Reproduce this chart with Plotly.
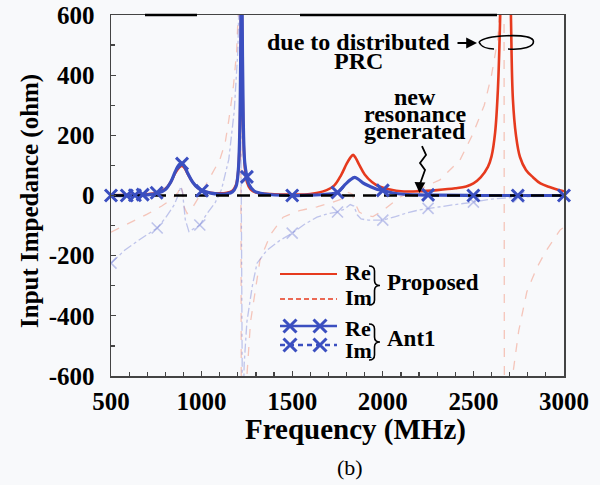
import plotly.graph_objects as go

# ---------------- data ----------------
# Proposed antenna, real part (ohm)
prop_re_f = [500, 600, 700, 760, 800, 830, 855, 875, 890, 905, 925, 950, 980, 1010, 1050, 1100,
             1140, 1170, 1190, 1202, 1210, 1216, 1220, 1224, 1230, 1238, 1250, 1270, 1300, 1400,
             1500, 1600, 1690, 1730, 1770, 1800, 1820, 1836, 1850, 1870, 1900, 1940, 1980, 2040,
             2100, 2200, 2300, 2400, 2460, 2500, 2540, 2580, 2600, 2620, 2635, 2648, 2662, 2677,
             2692, 2707, 2718, 2735, 2757, 2790, 2830, 2870, 2920, 2970, 3000]
prop_re_v = [1, 2, 4, 10, 22, 45, 75, 92, 98, 92, 70, 45, 25, 15, 9, 7,
             9, 16, 35, 80, 180, 450, 750, 500, 220, 100, 45, 20, 10, 4,
             3, 5, 18, 32, 68, 105, 125, 135, 125, 102, 70, 45, 30, 20,
             14, 14, 18, 24, 30, 40, 60, 95, 130, 210, 350, 600, 1100, 1500,
             1100, 600, 320, 200, 128, 85, 60, 40, 28, 18, 14]

# Proposed antenna, imaginary part (ohm)
prop_im_f = [500, 600, 700, 780, 840, 870, 885, 895, 905, 920, 950, 990, 1032, 1070, 1100, 1130,
             1150, 1175, 1193, 1205, 1214, 1220, 1235, 1250, 1270, 1300, 1322, 1380, 1450, 1540,
             1637, 1725, 1780, 1810, 1830, 1850, 1870, 1900, 1946, 2000, 2095, 2200, 2315, 2426,
             2499, 2560, 2600, 2635, 2655, 2668, 2672, 2690, 2718, 2750, 2795, 2850, 2900, 2978, 3000]
prop_im_v = [-122, -92, -62, -35, -10, 10, 35, 10, -40, -60, -40, 0, 45, 85, 118, 175,
             250, 360, 475, 650, 1000, -1000, -800, -600, -420, -300, -215, -130, -72, -50,
             -38, -22, -10, 10, 5, -30, -55, -65, -70, -50, -5, 20, 52, 118,
             207, 300, 400, 520, 750, 1500, -1500, -800, -592, -450, -320, -240, -185, -115, -105]

# Ant1, real part (ohm)
ant1_re_f = [500, 600, 700, 760, 800, 830, 855, 875, 890, 905, 925, 950, 980, 1010, 1050, 1100,
             1140, 1170, 1190, 1202, 1210, 1216, 1220, 1224, 1230, 1238, 1250, 1260, 1290, 1350,
             1500, 1600, 1700, 1750, 1790, 1820, 1845, 1865, 1890, 1930, 1970, 2000, 2050, 2100,
             2200, 2300, 2500, 2750, 3000]
ant1_re_v = [0, 0, 2, 8, 20, 45, 80, 102, 108, 98, 72, 45, 25, 15, 8, 5,
             6, 12, 30, 80, 200, 500, 900, 600, 250, 110, 62, 38, 15, 5,
             0, 1, 5, 10, 35, 52, 60, 54, 42, 30, 20, 17, 9, 5,
             2, 1, 0, 0, 0]
ant1_re_mk_f = [500, 587, 632, 675, 752, 892, 1002, 1250, 1500, 1750, 2000, 2250, 2500, 2745, 3000]
ant1_re_mk_v = [0, 0, 1, 3, 9, 106, 16, 62, 0, 10, 17, 2, 0, 0, 0]

# Ant1, imaginary part (ohm)
ant1_im_f = [500, 575, 650, 755, 800, 850, 870, 885, 895, 910, 930, 960, 990, 1030, 1074, 1110,
             1150, 1180, 1200, 1212, 1226, 1235, 1250, 1280, 1306, 1360, 1430, 1500, 1570, 1637,
             1700, 1747, 1790, 1820, 1840, 1860, 1880, 1920, 2000, 2070, 2133, 2200, 2250, 2300,
             2400, 2500, 2600, 2750, 3000]
ant1_im_v = [-225, -182, -150, -108, -75, -30, 0, 30, 10, -80, -120, -110, -98, -60, -25, 20,
             120, 280, 480, 800, -800, -560, -420, -300, -225, -182, -150, -125, -95, -72,
             -60, -55, -45, -30, -35, -65, -78, -82, -82, -70, -58, -48, -43, -38,
             -30, -22, -12, -5, 0]
ant1_im_mk_f = [500, 755, 990, 1500, 1750, 2000, 2250, 2500, 2750, 3000]
ant1_im_mk_v = [-225, -108, -98, -125, -55, -82, -43, -22, -5, 0]

x_ticks = [500, 1000, 1500, 2000, 2500, 3000]
y_ticks = [-600, -400, -200, 0, 200, 400, 600]

# ---------------- styling ----------------
W, H = 600, 485
L, R, T, B = 111, 564, 15, 376
RED = '#e63a1e'
BLUE = '#3b4fc0'
RED_F = 'rgba(240,120,90,0.40)'
BLUE_F = 'rgba(120,130,215,0.45)'
FONT = 'Liberation Serif, Times New Roman, serif'
BG = '#f8f9fb'


def px(xp, yp):
    return (xp - L) / (R - L), (B - yp) / (B - T)


fig = go.Figure()

# faint imaginary parts
fig.add_trace(go.Scatter(x=prop_im_f, y=prop_im_v, mode='lines',
                         line=dict(color=RED_F, width=1.3, dash='dash'), showlegend=False))
fig.add_trace(go.Scatter(x=ant1_im_f, y=ant1_im_v, mode='lines',
                         line=dict(color=BLUE_F, width=1.3, dash='dashdot'), showlegend=False))
fig.add_trace(go.Scatter(x=ant1_im_mk_f, y=ant1_im_mk_v, mode='markers',
                         marker=dict(symbol='x-thin', size=11, line=dict(color=BLUE_F, width=1.6)),
                         showlegend=False))
# real parts
fig.add_trace(go.Scatter(x=prop_re_f, y=prop_re_v, mode='lines', line_shape='spline',
                         line=dict(color=RED, width=2.6), showlegend=False))
fig.add_trace(go.Scatter(x=ant1_re_f, y=ant1_re_v, mode='lines', line_shape='spline',
                         line=dict(color=BLUE, width=3.2), showlegend=False))
# zero line
fig.add_trace(go.Scatter(x=[500, 3000], y=[0, 0], mode='lines',
                         line=dict(color='black', width=2.6, dash='13px,8px'), showlegend=False))
fig.add_trace(go.Scatter(x=ant1_re_mk_f, y=ant1_re_mk_v, mode='markers', cliponaxis=False,
                         marker=dict(symbol='x-thin', size=12, line=dict(color=BLUE, width=3)),
                         showlegend=False))

# ---------------- legend samples (on a hidden 0..1 overlay axis) ----------------
def leg_line(x0, x1, y, color, width, dash, marker=None):
    a, yy = px(x0, y)
    b, _ = px(x1, y)
    fig.add_trace(go.Scatter(x=[a, b], y=[yy, yy], xaxis='x2', yaxis='y2', mode='lines',
                             line=dict(color=color, width=width, dash=dash), showlegend=False))
    if marker:
        m1, _ = px(marker[0], y)
        m2, _ = px(marker[1], y)
        fig.add_trace(go.Scatter(x=[m1, m2], y=[yy, yy], xaxis='x2', yaxis='y2', mode='markers',
                                 marker=dict(symbol='x-thin', size=13, line=dict(color=BLUE, width=3)),
                                 showlegend=False))

leg_line(280, 337, 274, RED, 2.2, 'solid')
leg_line(280, 337, 299, RED, 1.6, '5px,3px')
leg_line(280, 337, 326, BLUE, 2.5, 'solid', (290, 320))
leg_line(280, 337, 345, BLUE, 2.5, '5px,4px', (290, 320))

annotations = []


def txt(s, xp, yp, size=24, xanchor='center', bold=True, angle=0):
    x, y = px(xp, yp)
    annotations.append(dict(text=('<b>%s</b>' % s) if bold else s, x=x, y=y, xref='paper', yref='paper',
                            xanchor=xanchor, yanchor='middle', showarrow=False, textangle=angle,
                            borderpad=0, font=dict(family=FONT, size=size, color='black')))

txt('Re', 344, 272, 22, 'left')
txt('Im', 344, 297, 22, 'left')
txt('Re', 344, 328, 22, 'left')
txt('Im', 344, 350, 22, 'left')
txt('Proposed', 386, 282, 23, 'left')
txt('Ant1', 386, 338, 23, 'left')

txt('due to distributed', 358, 42, 24)
txt('PRC', 358, 61, 24)
txt('new', 415, 97, 24)
txt('resonance', 415, 114, 24)
txt('generated', 415, 131, 24)

txt('Frequency (MHz)', 355, 430, 29)
txt('Input Impedance (ohm)', 30, 201, 25, angle=-90)
txt('(b)', 350, 467, 22, bold=False)


def path_px(cmds):
    out = []
    for c in cmds:
        if isinstance(c, str):
            out.append(c)
        else:
            x, y = px(*c)
            out.append('%.4f,%.4f' % (x, y))
    return ' '.join(out)


def brace(x0, top, bot, w=11):
    mid = (top + bot) / 2
    xm = x0 + w * 0.5
    return path_px(['M', (x0, top), 'Q', (xm, top), (xm, top + 5), 'L', (xm, mid - 5),
                    'Q', (xm, mid), (x0 + w, mid), 'Q', (xm, mid), (xm, mid + 5),
                    'L', (xm, bot - 5), 'Q', (xm, bot), (x0, bot)])

shapes = []
for pth in [brace(369, 266, 305), brace(369, 324, 360)]:
    shapes.append(dict(type='path', xref='paper', yref='paper', path=pth,
                       line=dict(color='black', width=1.6)))

# loop around the PRC peak
loop = path_px(['M', (479, 42), 'C', (486, 35), (528, 33), (533, 40),
                'C', (536, 47), (522, 50), (508, 49)])
loop2 = path_px(['M', (479, 42), 'C', (481, 47), (488, 49), (494, 49)])
for pth in [loop, loop2]:
    shapes.append(dict(type='path', xref='paper', yref='paper', path=pth,
                       line=dict(color='black', width=1.6)))

# squiggle arrow
sq = path_px(['M', (422, 146), 'L', (426, 155), 'L', (420, 163), 'L', (425, 170), 'L', (420, 184)])
shapes.append(dict(type='path', xref='paper', yref='paper', path=sq,
                   line=dict(color='black', width=1.8)))

# thick segments on the top frame
for a, b in [(145, 197), (300, 497)]:
    xa, yt = px(a, T)
    xb, _ = px(b, T)
    shapes.append(dict(type='line', xref='paper', yref='paper', x0=xa, x1=xb, y0=yt, y1=yt,
                       line=dict(color='black', width=2.6)))

# arrows
hx, hy = px(477, 43)
annotations.append(dict(x=hx, y=hy, xref='paper', yref='paper', ax=-21, ay=0, text='',
                        showarrow=True, arrowhead=2, arrowsize=1.2, arrowwidth=1.8, arrowcolor='black'))
hx, hy = px(419.5, 193)
annotations.append(dict(x=hx, y=hy, xref='paper', yref='paper', ax=0.5, ay=-12, text='',
                        showarrow=True, arrowhead=2, arrowsize=1.2, arrowwidth=1.8, arrowcolor='black'))

axis_common = dict(showline=True, mirror=True, linecolor='#444', linewidth=1.5, ticks='inside',
                   ticklen=5, tickwidth=1.2, tickcolor='#444', showgrid=False, zeroline=False,
                   automargin=False, tickfont=dict(family=FONT, size=25, color='black'))

fig.update_layout(
    template='none',
    width=W, height=H,
    margin=dict(l=L, r=W - R, t=T, b=H - B, pad=0),
    paper_bgcolor=BG, plot_bgcolor=BG,
    showlegend=False,
    hovermode=False,
    xaxis=dict(range=[500, 3000], tickvals=x_ticks, ticktext=['<b>%d</b>' % v for v in x_ticks],
               minor=dict(dtick=100, ticks='inside', ticklen=4, tickcolor='#444'),
               ticklabelstandoff=2, **axis_common),
    yaxis=dict(range=[-600, 600], tickvals=y_ticks, ticktext=['<b>%d</b>' % v for v in y_ticks],
               minor=dict(dtick=100, ticks='inside', ticklen=4, tickcolor='#444'),
               ticklabelstandoff=10, **axis_common),
    xaxis2=dict(overlaying='x', range=[0, 1], visible=False),
    yaxis2=dict(overlaying='y', range=[0, 1], visible=False),
    annotations=annotations,
    shapes=shapes,
)

fig.write_html('out.html', config={'displayModeBar': False, 'staticPlot': True},
               post_script="document.body.style.margin='0px';document.body.style.overflow='hidden';"
                           "document.body.style.background='%s';" % BG)
